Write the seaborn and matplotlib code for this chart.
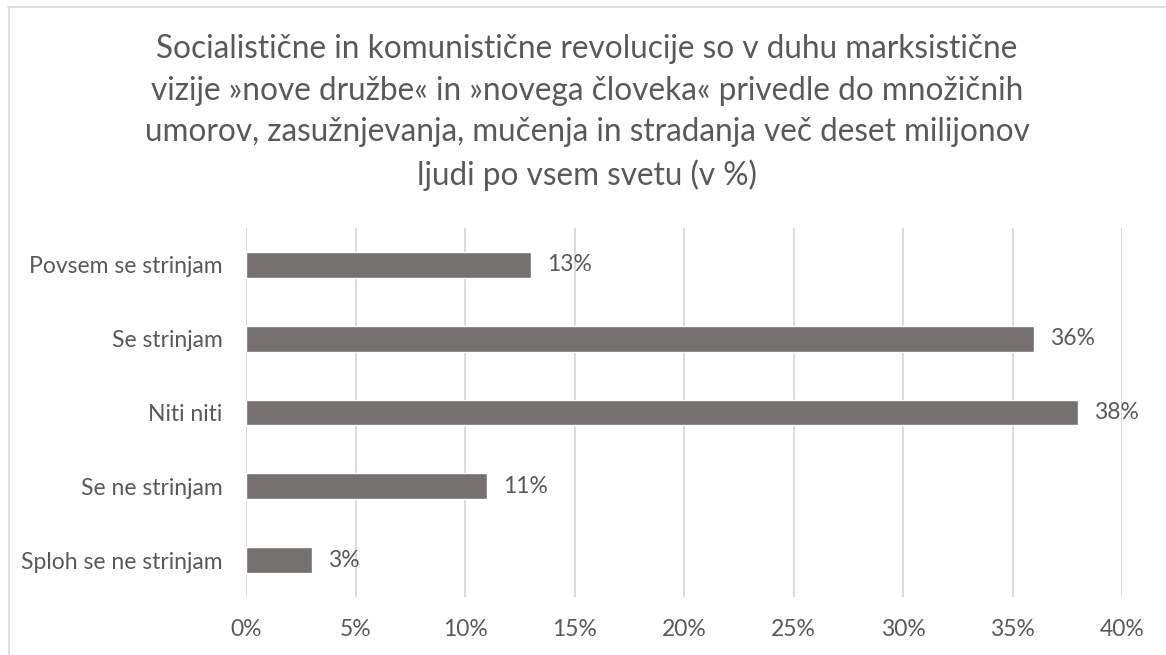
import matplotlib
matplotlib.use('Agg')
import matplotlib.pyplot as plt
from matplotlib.lines import Line2D
from matplotlib.ticker import FuncFormatter
import pandas as pd
import seaborn as sns

categories = ['Povsem se strinjam', 'Se strinjam', 'Niti niti',
              'Se ne strinjam', 'Sploh se ne strinjam']
values = [13, 36, 38, 11, 3]
x_ticks = [0, 5, 10, 15, 20, 25, 30, 35, 40]
title = ('Socialistične in komunistične revolucije so v duhu marksistične\n'
         'vizije »nove družbe« in »novega človeka« privedle do množičnih\n'
         'umorov, zasužnjevanja, mučenja in stradanja več deset milijonov\n'
         'ljudi po vsem svetu (v %)')

BAR = '#767171'
TEXT = '#595959'
GRID = '#d9d9d9'

sns.set_theme(style='white')
plt.rcParams['font.family'] = ['Lato', 'DejaVu Sans']

df = pd.DataFrame({'odgovor': categories, 'delez': values})

W, H = 1166, 655
fig = plt.figure(figsize=(W / 100, H / 100), dpi=100)
ax = fig.add_axes([246 / W, 1 - 597 / H, (1122 - 246) / W, (597 - 228) / H])

sns.barplot(data=df, x='delez', y='odgovor', order=categories, color=BAR,
            width=0.35, saturation=1, ax=ax, zorder=3)

ax.set_xlim(0, 40)
ax.set_ylim(4.5, -0.5)
ax.set_xticks(x_ticks)
ax.xaxis.set_major_formatter(FuncFormatter(lambda v, p: f'{v:.0f}%'))
ax.grid(axis='x', color=GRID, linewidth=1.3, zorder=0)
ax.grid(axis='y', visible=False)
for s in ax.spines.values():
    s.set_visible(False)
ax.tick_params(axis='both', length=0, labelsize=16.5, labelcolor=TEXT)
ax.tick_params(axis='x', pad=16)
ax.tick_params(axis='y', pad=17)
ax.set_xlabel('')
ax.set_ylabel('')

for i, v in enumerate(values):
    ax.text(v + 0.73, i, f'{v}%', va='center', ha='left',
            fontsize=16.5, color=TEXT)

fig.text(0.5 * (8 + W) / W, 1 - 34 / H, title, ha='center', va='top',
         fontsize=22.7, color=TEXT, linespacing=1.48)

# chart border (top and left edges visible)
fig.add_artist(Line2D([8 / W, 1], [1 - 6.5 / H, 1 - 6.5 / H],
                      color=GRID, linewidth=1.2, transform=fig.transFigure))
fig.add_artist(Line2D([8.5 / W, 8.5 / W], [0, 1 - 6.5 / H],
                      color=GRID, linewidth=1.2, transform=fig.transFigure))

fig.savefig('out.png', dpi=100, facecolor='white')
